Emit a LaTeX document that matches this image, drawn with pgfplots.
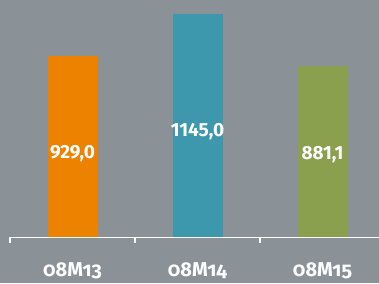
\documentclass[border=0pt]{standalone}
\usepackage{fontspec}
\setmainfont{Fira Sans}[Numbers=Lining]
\newfontfamily\oldfont{Fira Sans}[Numbers=OldStyle]
\usepackage{pgfplots}
\pgfplotsset{compat=1.18}
\definecolor{bg}{RGB}{138,146,152}
\definecolor{corange}{RGB}{236,130,0}
\definecolor{cteal}{RGB}{61,152,174}
\definecolor{colive}{RGB}{139,160,78}
\begin{document}
\begin{tikzpicture}[x=1pt,y=1pt]
\fill[bg] (0,0) rectangle (379,283);
\useasboundingbox (0,0) rectangle (379,283);
\begin{axis}[
  at={(10pt,45.5pt)}, anchor=south west,
  width=369pt, height=237.5pt, scale only axis,
  xmin=-0.5, xmax=2.452, ymin=0, ymax=1219,
  axis x line=bottom, axis y line=none,
  axis line style={-, white, line width=1.6pt},
  xtick={0,1,2},
  xticklabels={08M13,08M14,08M15},
  major tick length=0pt,
  tick align=outside,
  xticklabel style={font=\oldfont\bfseries\fontsize{20}{22}\selectfont, text=white, anchor=base, yshift=-39pt},
  extra x ticks={-0.5,0.5,1.5},
  extra x tick labels={},
  extra x tick style={major tick length=5.5pt, tick style={white, line width=1.3pt}},
  clip=false,
]
\addplot[ybar, bar width=50pt, bar shift=0pt, fill=corange, draw=none] coordinates {(0,929.0)};
\addplot[ybar, bar width=50pt, bar shift=0pt, fill=cteal, draw=none] coordinates {(1,1145.0)};
\addplot[ybar, bar width=50pt, bar shift=0pt, fill=colive, draw=none] coordinates {(2,881.1)};
\addplot[draw=none, mark=none, nodes near coords, point meta=explicit symbolic,
  every node near coord/.style={anchor=center, text=white, font=\bfseries\fontsize{19}{21}\selectfont}]
  table[meta=label] {
x y label
0 432 929,0
1 545 1145,0
2 426 881,1
};
\end{axis}
\end{tikzpicture}
\end{document}
